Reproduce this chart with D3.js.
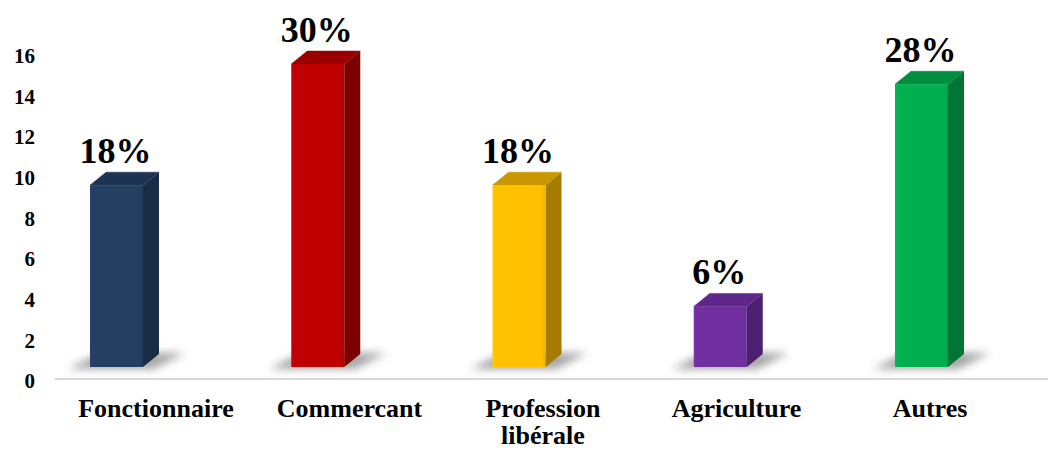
<!DOCTYPE html>
<html>
<head>
<meta charset="utf-8">
<script src="https://cdn.jsdelivr.net/npm/d3@7"></script>
<style>
  body { margin: 0; background: #fff; }
  text { font-family: "Liberation Serif", "Times New Roman", serif; font-weight: bold; fill: #000; }
</style>
</head>
<body>
<svg id="chart" width="1048" height="450"></svg>
<script>
// Occupations and their counts (percent of 50 respondents)
const categories = ["Fonctionnaire", "Commercant", "Profession libérale", "Agriculture", "Autres"];
const counts = [9, 15, 9, 3, 14];
const percentLabels = ["18%", "30%", "18%", "6%", "28%"];
const yTicks = [0, 2, 4, 6, 8, 10, 12, 14, 16];

// Face colours per bar: front, side, top
const frontColors = ["#243f62", "#c00000", "#ffc000", "#7030a0", "#00b050"];
const sideColors  = ["#1a2b45", "#7c0000", "#a57b00", "#4c2070", "#007535"];
const topColors   = ["#1d3352", "#9a0000", "#c99700", "#5d2889", "#008d40"];

const svg = d3.select("#chart");
const W = 1048, H = 450;

// Vertical scale for the bars (floor at the front of the plot)
const y = d3.scaleLinear().domain([0, 16]).range([367, 43.8]);
// Scale for the value axis labels
const yAxisScale = d3.scaleLinear().domain([0, 16]).range([380.5, 55]);
// Bar front-face centres and category label centres
const xBar = d3.scalePoint().domain(categories).range([116.5, 921.5]);
const xLabel = d3.scalePoint().domain(categories).range([156, 930]);

const barW = 53;                 // front face width
const depthX = 16, depthY = -13; // 3D depth offset

const defs = svg.append("defs");
defs.append("filter").attr("id", "shadowBlur")
  .attr("x", "-50%").attr("y", "-100%").attr("width", "200%").attr("height", "300%")
  .append("feGaussianBlur").attr("stdDeviation", 4);

categories.forEach((c, i) => {
  const g = defs.append("linearGradient").attr("id", "front" + i)
    .attr("x1", 0).attr("x2", 1).attr("y1", 0).attr("y2", 0);
  const base = d3.color(frontColors[i]);
  g.append("stop").attr("offset", 0).attr("stop-color", base.brighter(0.15));
  g.append("stop").attr("offset", 0.08).attr("stop-color", base);
  g.append("stop").attr("offset", 0.92).attr("stop-color", base);
  g.append("stop").attr("offset", 1).attr("stop-color", base.darker(0.2));
});

// Floor line
svg.append("line")
  .attr("x1", 55).attr("x2", W)
  .attr("y1", y(0) + 12).attr("y2", y(0) + 12)
  .attr("stroke", "#d9d9d9").attr("stroke-width", 2);

// Y axis labels (no axis line)
const yAxis = d3.axisLeft(yAxisScale).tickValues(yTicks).tickSize(0).tickPadding(0);
const yg = svg.append("g").attr("transform", "translate(35,0)").call(yAxis);
yg.select(".domain").remove();
yg.selectAll("text")
  .attr("font-size", 21)
  .attr("font-family", "\"Liberation Serif\", \"Times New Roman\", serif")
  .attr("font-weight", "bold")
  .attr("fill", "#000")
  .attr("dy", "0.35em");

const bars = svg.append("g").selectAll("g.bar")
  .data(categories.map((c, i) => ({ c, i, v: counts[i], p: percentLabels[i] })))
  .join("g").attr("class", "bar");

// Soft floor shadow
bars.append("polygon")
  .attr("points", d => {
    const x0 = xBar(d.c) - barW / 2, b = y(0);
    return [
      [x0 - 22, b + 2], [x0 + barW + 10, b + 2],
      [x0 + barW + depthX + 26, b + depthY - 1], [x0 + depthX - 6, b + depthY - 1]
    ].map(p => p.join(",")).join(" ");
  })
  .attr("fill", "#4a4a4a").attr("opacity", 0.5)
  .attr("filter", "url(#shadowBlur)");

// Side face
bars.append("polygon")
  .attr("points", d => {
    const x1 = xBar(d.c) + barW / 2, t = y(d.v), b = y(0);
    return [[x1, b], [x1, t], [x1 + depthX, t + depthY], [x1 + depthX, b + depthY]]
      .map(p => p.join(",")).join(" ");
  })
  .attr("fill", d => sideColors[d.i]);

// Top face
bars.append("polygon")
  .attr("points", d => {
    const x0 = xBar(d.c) - barW / 2, t = y(d.v);
    return [[x0, t], [x0 + barW, t], [x0 + barW + depthX, t + depthY], [x0 + depthX, t + depthY]]
      .map(p => p.join(",")).join(" ");
  })
  .attr("fill", d => topColors[d.i])
  .attr("stroke", d => topColors[d.i]).attr("stroke-width", 0.5).attr("stroke-linejoin", "round");

// Front face
bars.append("rect")
  .attr("x", d => xBar(d.c) - barW / 2)
  .attr("y", d => y(d.v))
  .attr("width", barW)
  .attr("height", d => y(0) - y(d.v))
  .attr("fill", d => "url(#front" + d.i + ")");

// Percentage labels above bars
bars.append("text")
  .attr("x", d => xBar(d.c) - 1)
  .attr("y", d => y(d.v) - 22)
  .attr("text-anchor", "middle")
  .attr("font-size", 36)
  .text(d => d.p);

// Category labels (wrapped on spaces)
const cl = svg.append("g").selectAll("text")
  .data(categories)
  .join("text")
  .attr("text-anchor", "middle")
  .attr("font-size", 26)
  .attr("x", d => xLabel(d))
  .attr("y", 417);
cl.each(function (d) {
  const words = d.split(" ");
  const t = d3.select(this);
  words.forEach((w, k) => {
    t.append("tspan").attr("x", xLabel(d)).attr("dy", k === 0 ? 0 : 27).text(w);
  });
});
</script>
</body>
</html>
